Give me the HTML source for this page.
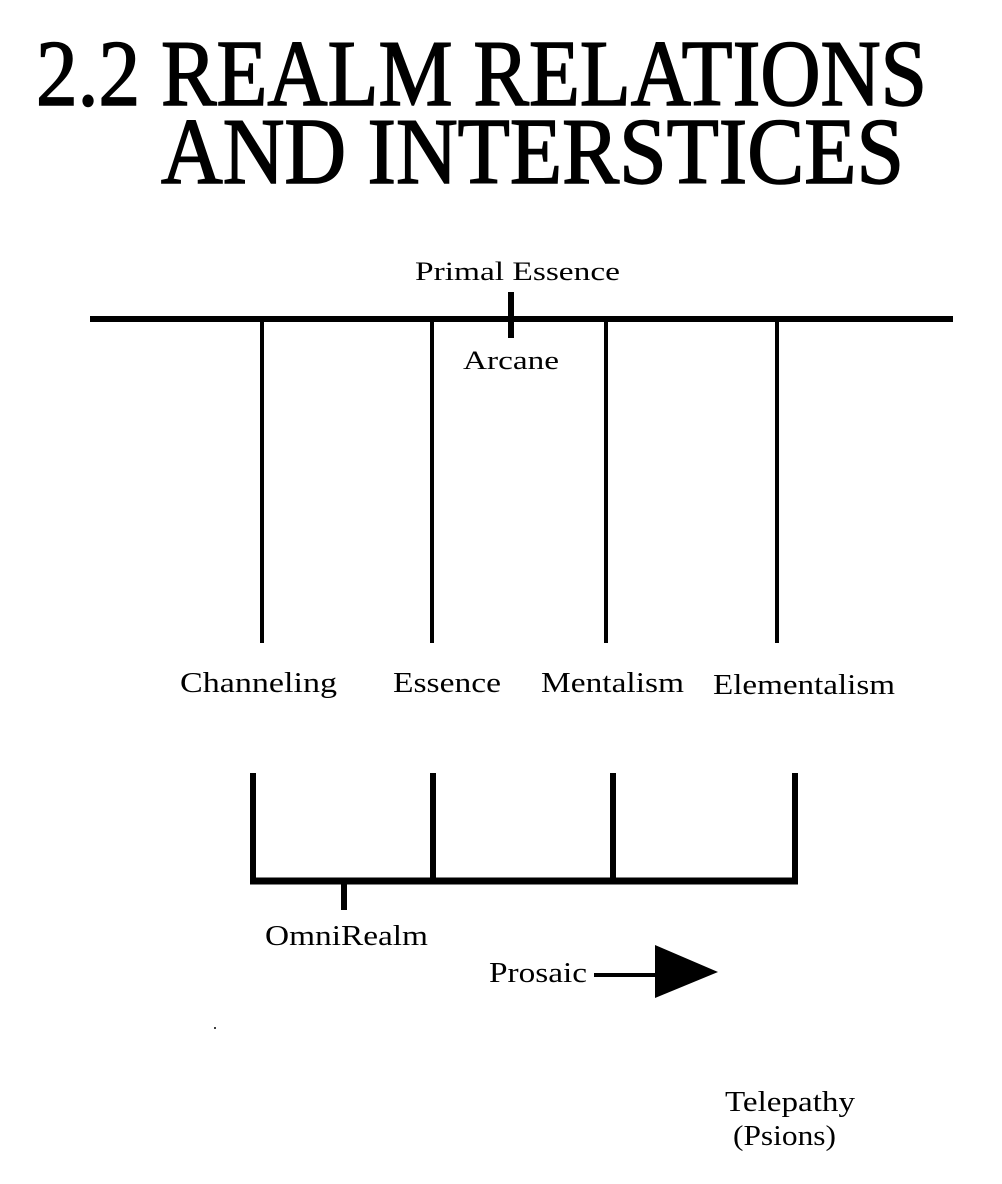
<!DOCTYPE html>
<html><head><meta charset="utf-8"><style>
html,body{margin:0;padding:0;background:#fff;}
svg{display:block;}
</style></head><body>
<svg width="1002" height="1184" viewBox="0 0 1002 1184" xmlns="http://www.w3.org/2000/svg">
<rect width="1002" height="1184" fill="#fff"/>
<g font-family="Liberation Serif, serif" fill="#000">
<text x="36" y="105" font-size="94" stroke="#000" stroke-width="1.6" textLength="891" lengthAdjust="spacingAndGlyphs">2.2 REALM RELATIONS</text>
<text x="161" y="183" font-size="94" stroke="#000" stroke-width="1.6" textLength="743" lengthAdjust="spacingAndGlyphs">AND INTERSTICES</text>
<text x="415" y="280" font-size="26" textLength="205" lengthAdjust="spacingAndGlyphs">Primal Essence</text>
<text x="463" y="369" font-size="26" textLength="96" lengthAdjust="spacingAndGlyphs">Arcane</text>
<text x="180" y="692" font-size="28" textLength="157" lengthAdjust="spacingAndGlyphs">Channeling</text>
<text x="393" y="692" font-size="28" textLength="108" lengthAdjust="spacingAndGlyphs">Essence</text>
<text x="541" y="692" font-size="28" textLength="143" lengthAdjust="spacingAndGlyphs">Mentalism</text>
<text x="713" y="694" font-size="28" textLength="182" lengthAdjust="spacingAndGlyphs">Elementalism</text>
<text x="265" y="945" font-size="28" textLength="163" lengthAdjust="spacingAndGlyphs">OmniRealm</text>
<text x="489" y="982" font-size="28" textLength="98" lengthAdjust="spacingAndGlyphs">Prosaic</text>
<text x="725" y="1111" font-size="28" textLength="130" lengthAdjust="spacingAndGlyphs">Telepathy</text>
<text x="733" y="1145" font-size="28" textLength="103" lengthAdjust="spacingAndGlyphs">(Psions)</text>
</g>
<g stroke="#000" fill="none">
<line x1="90" y1="319" x2="953" y2="319" stroke-width="6"/>
<line x1="262" y1="319" x2="262" y2="643" stroke-width="4"/>
<line x1="432" y1="319" x2="432" y2="643" stroke-width="4"/>
<line x1="606" y1="319" x2="606" y2="643" stroke-width="4"/>
<line x1="777" y1="319" x2="777" y2="643" stroke-width="4"/>
<line x1="511" y1="292" x2="511" y2="338" stroke-width="6"/>
<line x1="253" y1="773" x2="253" y2="883" stroke-width="6"/>
<line x1="433" y1="773" x2="433" y2="883" stroke-width="6"/>
<line x1="613" y1="773" x2="613" y2="883" stroke-width="6"/>
<line x1="795" y1="773" x2="795" y2="883" stroke-width="6"/>
<line x1="250" y1="881" x2="798" y2="881" stroke-width="7"/>
<line x1="344" y1="881" x2="344" y2="910" stroke-width="6"/>
<line x1="594" y1="975" x2="660" y2="975" stroke-width="4"/>
</g>
<polygon points="655,945 718,972 655,998" fill="#000"/>
<circle cx="215" cy="1028" r="1" fill="#000"/>
</svg>
</body></html>
